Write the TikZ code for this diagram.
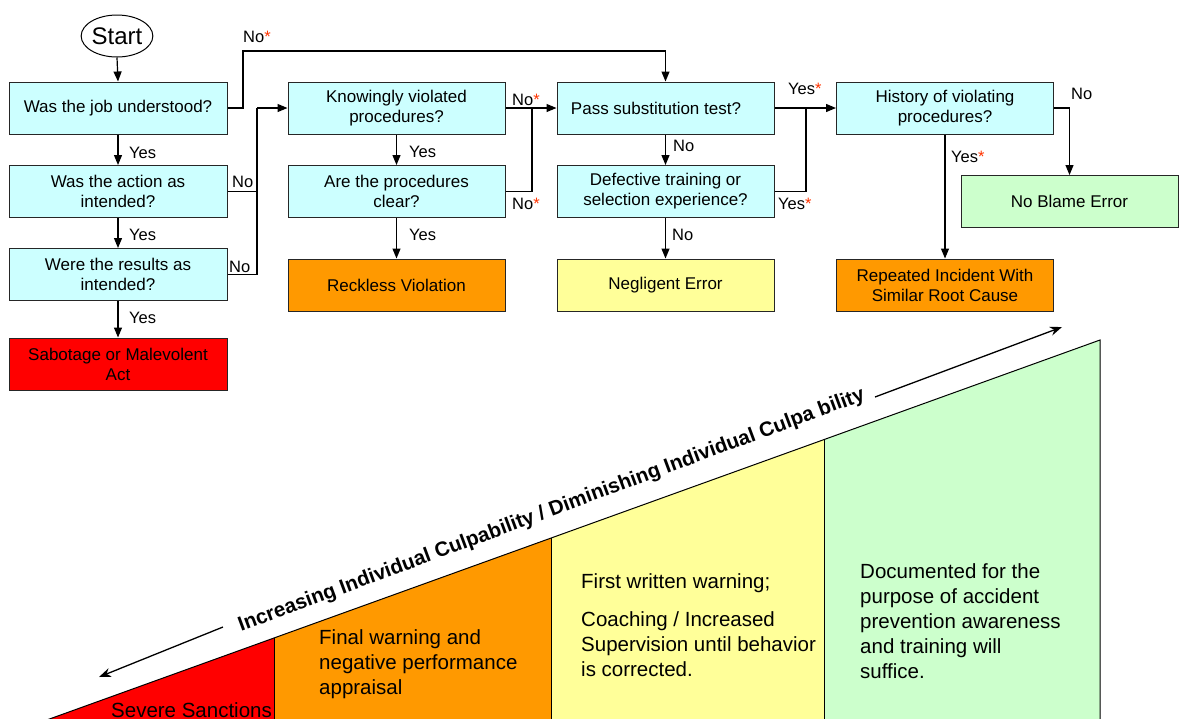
\documentclass[tikz,border=0pt]{standalone}
\usepackage{fontspec}
\setmainfont{Liberation Sans}
\usetikzlibrary{arrows.meta,shapes.geometric}
\definecolor{qcyan}{HTML}{CCFFFF}
\definecolor{qorange}{HTML}{FF9900}
\definecolor{qred}{HTML}{FF0000}
\definecolor{qyellow}{HTML}{FFFF99}
\definecolor{qgreen}{HTML}{CCFFCC}
\definecolor{qstar}{HTML}{FF3300}
\newcommand{\redstar}{\textcolor{qstar}{*}}
\begin{document}
\begin{tikzpicture}[x=1pt,y=-1pt,
  box/.style={draw=black!85, line width=1pt, minimum width=217pt, minimum height=52pt,
    inner sep=0pt, align=center, font=\fontsize{17}{20}\selectfont},
  qbox/.style={box, fill=qcyan},
  lbl/.style={font=\fontsize{16.5}{19}\selectfont, inner sep=0pt, anchor=west},
  conn/.style={line width=1.2pt},
  arr/.style={conn, -{Triangle[length=10pt,width=8pt]}},
  bigarr/.style={line width=1.3pt, -{Stealth[length=12pt,width=9pt]}},
  btxt/.style={font=\fontsize{20.5}{25}\selectfont, align=left, inner sep=0pt, anchor=north west},
  band/.style={line width=1pt, draw=black}
]
\useasboundingbox (0,0) rectangle (1182,718);

% ---------------- staircase ----------------
\begin{scope}
\clip (0,0) rectangle (1182,718);
\fill[qred]    (40,722.4) -- (274,638) -- (274,730) -- (40,730) -- cycle;
\fill[qorange] (274,638) -- (551,538) -- (551,730) -- (274,730) -- cycle;
\fill[qyellow] (551,538) -- (824,439.6) -- (824,730) -- (551,730) -- cycle;
\fill[qgreen]  (824,439.6) -- (1100,340) -- (1100,730) -- (824,730) -- cycle;
\draw[band] (40,722.4) -- (1100,340) -- (1100,730);
\draw[band] (274,638) -- (274,730);
\draw[band] (551,538) -- (551,730);
\draw[band] (824,439.6) -- (824,730);
\end{scope}

\node[font=\fontsize{20.5}{25}\selectfont, inner sep=0pt, anchor=base west] (sev) at (111,717.5) {Severe Sanctions};
\node[btxt] (fin) at (319,626.5) {\strut Final warning and\\negative performance\\appraisal};
\node[btxt] (fir) at (581,570.5) {\strut First written warning;\\[13pt]Coaching / Increased\\Supervision until behavior\\is corrected.};
\node[btxt] (doc) at (860,560.5) {\strut Documented for the\\purpose of accident\\prevention awareness\\and training will\\suffice.};

\node[rotate=20.4, anchor=base west, inner sep=0pt, font=\fontsize{20.5}{24}\selectfont\bfseries] (diag) at (241,632)
  {Increasing Individual Culpability / Diminishing Individual Culpa bility};

\coordinate (aUs) at (875,397);
\coordinate (aUe) at (1062,327);
\draw[bigarr] (aUs) -- (aUe);
\coordinate (aLs) at (223,627);
\coordinate (aLe) at (99,677);
\draw[bigarr] (aLs) -- (aLe);

% ---------------- flowchart ----------------
\node[draw=black, line width=1pt, ellipse, minimum width=62pt, minimum height=42pt, inner sep=0pt,
  font=\fontsize{24}{26}\selectfont] (start) at (117,36) {Start};

\node[qbox, minimum width=218pt] (q1) at (118,108) {Was the job understood?};
\node[qbox, minimum width=218pt] (q2) at (118,191.5) {Was the action as\\intended?};
\node[qbox, minimum width=218pt] (q3) at (118,274.5) {Were the results as\\intended?};
\node[box, fill=qred, minimum width=218pt] (sab) at (118,364) {Sabotage or Malevolent\\Act};

\node[qbox] (k1) at (396.5,108) {Knowingly violated\\procedures?};
\node[qbox] (k2) at (396.5,191.5) {Are the procedures\\clear?};
\node[box, fill=qorange] (rv) at (396.5,285) {Reckless Violation};

\node[qbox] (p1) at (665.5,108) {Pass substitution test?\hspace*{19pt}};
\node[qbox] (p2) at (665.5,191.5) {Defective training or\\selection experience?};
\node[box, fill=qyellow] (ne) at (665.5,285) {Negligent Error};

\node[qbox] (h1) at (945,108) {History of violating\\procedures?};
\node[box, fill=qorange] (ri) at (945,285) {Repeated Incident With\\Similar Root Cause};
\node[box, fill=qgreen] (nb) at (1069.5,201.5) {No Blame Error};

% connectors
\draw[arr] (start.south) -- (q1.north);
\draw[arr] (q1.south) -- (q2.north);
\draw[arr] (q2.south) -- (q3.north);
\draw[arr] (q3.south) -- (sab.north);

\coordinate (jA) at (243,51);
\draw[arr] (q1.east) -| (jA) -| (p1.north);

\coordinate (jB) at (257,108);
\draw[conn] (q2.east) -| (jB);
\draw[conn] (q3.east) -| (jB);
\draw[arr] (jB) -- (k1.west);

\draw[arr] (k1.south) -- (k2.north);
\draw[arr] (k2.south) -- (rv.north);
\coordinate (jC) at (532,108);
\draw[arr] (k1.east) -- (p1.west);
\draw[conn] (k2.east) -| (jC);

\draw[arr] (p1.south) -- (p2.north);
\draw[arr] (p2.south) -- (ne.north);
\coordinate (jD) at (806,108);
\draw[arr] (p1.east) -- (h1.west);
\draw[conn] (p2.east) -| (jD);

\draw[arr] (h1.south) -- (ri.north);
\draw[arr] (h1.east) -| (nb.north);

% labels
\node[lbl] (l1) at (243,37) {No\redstar};
\node[lbl] (l2) at (129,153) {Yes};
\node[lbl] (l3) at (129,235) {Yes};
\node[lbl] (l4) at (129,318) {Yes};
\node[lbl] (l5) at (232,182) {No};
\node[lbl] (l6) at (229,267) {No};
\node[lbl] (l7) at (409,152) {Yes};
\node[lbl] (l8) at (409,235) {Yes};
\node[lbl] (l9) at (512,100) {No\redstar};
\node[lbl] (l10) at (512,204) {No\redstar};
\node[lbl] (l11) at (673,146) {No};
\node[lbl] (l12) at (672,235) {No};
\node[lbl] (l13) at (788,89) {Yes\redstar};
\node[lbl] (l14) at (778,204) {Yes\redstar};
\node[lbl] (l15) at (951,157) {Yes\redstar};
\node[lbl] (l16) at (1071,94) {No};
\end{tikzpicture}
\end{document}
